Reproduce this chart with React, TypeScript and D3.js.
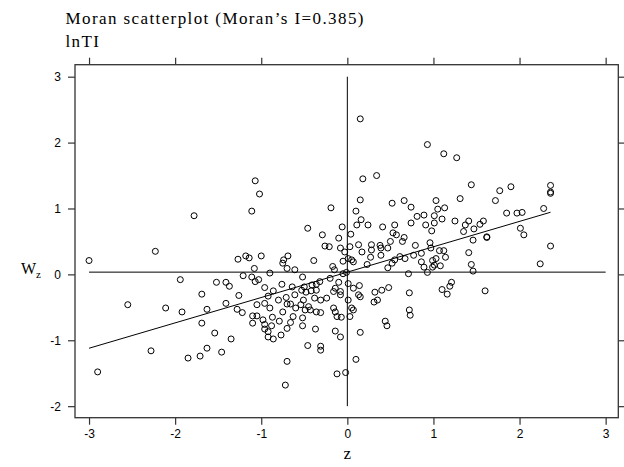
import React, { useEffect, useRef } from 'react';
import * as d3 from 'd3';

// standardised lnTI (z) and its spatial lag (Wz)
const zScore = [
  -3.00, -2.23, -1.78, -1.94, -1.69, -2.55, -2.11, -1.92, -1.63, -1.69, -1.54, -2.28, -1.85, -1.71, -1.63, -2.90,
  -1.52, -1.41, -1.37, -1.26, -1.21, -1.27, -1.18, -1.14, -1.08, -1.11, -1.07, -1.03, -1.11, -1.07, -1.02, -1.00, -1.41, -1.28, -1.22, -1.35, -1.46, -1.05, -1.10, -1.05, -1.10,
  -0.96, -0.96, -0.92, -0.86, -0.80, -0.71, -0.70, -0.66, -0.60, -0.61,
  -0.53, -0.48, -0.42, -0.36, -0.51, -0.54, -0.45, -0.38, -0.31, -0.24,
  -0.49, -0.43, -0.36, -0.31, -0.75, -0.90, -0.98, -0.87, -0.88, -0.96,
  -0.96, -0.92, -0.92, -0.86, -0.79, -0.77, -0.70, -0.66, -0.63, -0.52,
  -0.52, -0.37, -0.14, -0.08, -0.46, -0.31, -0.31, -0.70, -0.72, -0.12,
  -0.02, -0.16, -0.14, -0.12, -0.07, -0.16, -0.08, -0.14, -0.08, -0.19,
  -0.46, -0.06, -0.29, -0.10, -0.26, -0.21, -0.08, -0.03, -0.05, -0.69,
  -0.74, -0.75, -0.70, -0.61, -0.39, -0.90, -0.76, -0.64, -0.52, -0.50,
  -0.41, -0.36, -0.32, -0.20, -0.17, -0.15, -0.10, -0.05,
  0.93, 1.12, 1.27, 0.34, 0.18, 1.44, 1.31, 1.03, 0.66, 0.52,
  0.74, 1.05, 1.13, 0.89, 0.81, 1.01, 1.10, 1.25, 1.41, 1.58,
  1.54, 1.37, 0.74, 0.91, 1.01, 0.55, 0.41, 0.24, 0.15, 0.15,
  0.10, 0.16, 0.11, 0.98, 1.47, 1.35, 1.46, 1.41, 1.44, 1.46,
  0.04, 0.03, 0.13, 0.28, 0.28, 0.38, 0.39, 0.47, 0.50, 0.53,
  0.57, 0.66, 0.64, 0.79, 0.96, 0.97, 1.07, 1.12, 1.14, 1.03,
  0.99, 1.01, 1.08, 0.86, 0.77, 0.86, 0.89, 0.93, 0.67, 0.61,
  0.55, 0.52, 0.47, 0.71, 0.39, 0.27, 0.17, 0.23, 0.05, 0.07,
  0.01, -0.01, 0.01, 0.14, 0.48, 1.21, 0.99, 1.19, 1.10, 1.16,
  1.60, 1.62, 1.62, 0.07, 0.13, 0.15, 0.01, 0.05, 0.07, 0.03,
  0.32, 0.40, 0.35, 0.31, 0.72, 0.72, 0.73, 0.44, 0.46, 0.15, 0.10,
  1.77, 1.90, 1.72, 2.36, 2.36, 2.36, 2.28, 1.85, 1.97, 2.03, 2.01, 2.05, 2.36, 2.24,
];

const lagScore = [
  0.21, 0.35, 0.89, -0.08, -0.30, -0.46, -0.51, -0.57, -0.53, -0.74, -0.89, -1.16, -1.27, -1.24, -1.12, -1.48,
  -0.12, -0.12, -0.18, -0.32, -0.02, 0.23, 0.28, 0.25, 0.09, -0.04, -0.11, -0.08, 0.96, 1.42, 1.22, 0.28, -0.44, -0.53, -0.58, -0.98, -1.18, -0.46, -0.63, -0.63, -0.74,
  -0.44, -0.20, -0.33, -0.25, -0.39, -0.35, -0.45, -0.45, -0.51, -0.31,
  -0.24, -0.27, -0.25, -0.24, -0.39, -0.46, -0.49, -0.36, -0.39, -0.36,
  -0.54, -0.54, -0.57, -0.58, -0.57, -0.51, -0.69, -0.65, -0.78, -0.76,
  -0.83, -0.87, -0.95, -0.98, -0.71, -0.92, -0.82, -0.73, -0.64, -0.66,
  -0.78, -0.83, -0.86, -0.95, -1.08, -1.09, -1.15, -1.32, -1.68, -1.51,
  -1.49, -0.51, -0.57, -0.64, -0.65, -0.26, -0.26, -0.21, -0.31, 1.01,
  0.70, 0.72, 0.60, 0.55, 0.43, 0.42, 0.40, 0.34, 0.20, 0.28,
  0.22, 0.17, 0.09, 0.07, 0.21, 0.02, -0.15, -0.19, -0.04, -0.19,
  -0.16, -0.15, -0.11, -0.06, 0.12, 0.07, -0.12, 0.01,
  1.97, 1.83, 1.77, 1.50, 1.45, 1.36, 1.15, 1.12, 1.12, 1.08,
  1.02, 0.99, 1.01, 0.90, 0.88, 0.89, 0.84, 0.81, 0.81, 0.81,
  0.76, 0.75, 0.78, 0.75, 0.78, 0.75, 0.72, 0.75, 2.36, 1.13,
  0.96, 0.83, 0.75, 0.66, 0.69, 0.65, 0.52, 0.33, 0.15, 0.05,
  0.61, 0.42, 0.45, 0.45, 0.37, 0.44, 0.40, 0.40, 0.50, 0.63,
  0.60, 0.56, 0.50, 0.44, 0.48, 0.40, 0.36, 0.36, 0.26, 0.24,
  0.21, 0.14, 0.13, 0.32, 0.29, 0.19, 0.11, 0.03, 0.24, 0.27,
  0.22, 0.17, 0.10, 0.01, 0.29, 0.26, 0.34, 0.15, 0.22, 0.19,
  0.24, 0.03, -0.14, -0.17, -0.20, -0.12, 0.11, -0.18, -0.23, -0.30,
  -0.25, 0.57, 0.56, -0.21, -0.31, -0.34, -0.39, -0.51, -0.54, -0.64,
  -0.27, -0.24, -0.39, -0.42, -0.28, -0.54, -0.62, -0.71, -0.78, -0.88, -1.29,
  1.27, 1.33, 1.12, 1.35, 1.25, 1.23, 1.00, 0.93, 0.93, 0.94, 0.70, 0.60, 0.43, 0.16,
];

const xTicks = [-3, -2, -1, 0, 1, 2, 3];
const yTicks = [-2, -1, 0, 1, 2, 3];
const moranI = 0.385;
const fitIntercept = 0.034;
const lagMean = 0.034;
const titleLines = ['Moran scatterplot (Moran\u2019s I=0.385)', 'lnTI'];

const width = 624;
const height = 467;
const box = { left: 75, right: 618.3, top: 64.7, bottom: 417.7 };

export default function App() {
  const ref = useRef<SVGSVGElement>(null);

  useEffect(() => {
    const svg = d3.select(ref.current);
    svg.selectAll('*').remove();

    const x = d3.scaleLinear().domain([-3.163, 3.147]).range([box.left, box.right]);
    const y = d3.scaleLinear().domain([-2.175, 3.182]).range([box.bottom, box.top]);

    const n = Math.min(zScore.length, lagScore.length);
    const points = d3.range(n).map((i) => ({ z: zScore[i], wz: lagScore[i] }));

    // axes: ticks on all four sides, labels only left and bottom
    const tickStyle = (g: any) => {
      g.select('.domain').remove();
      g.attr('color', '#333')
        .attr('font-family', '"Liberation Sans", Arial, sans-serif')
        .attr('font-size', 12);
      g.selectAll('.tick line').attr('stroke-width', 1.2);
      g.selectAll('.tick text').attr('fill', '#000');
    };

    svg.append('g')
      .attr('transform', `translate(0,${box.bottom})`)
      .call(d3.axisBottom(x).tickValues(xTicks).tickSize(7).tickPadding(5).tickFormat((d: any) => String(d)))
      .call(tickStyle);
    svg.append('g')
      .attr('transform', `translate(0,${box.top})`)
      .call(d3.axisTop(x).tickValues(xTicks).tickSize(7).tickFormat(() => ''))
      .call(tickStyle);
    svg.append('g')
      .attr('transform', `translate(${box.left},0)`)
      .call(d3.axisLeft(y).tickValues(yTicks).tickSize(7).tickPadding(7).tickFormat((d: any) => String(d)))
      .call(tickStyle);
    svg.append('g')
      .attr('transform', `translate(${box.right},0)`)
      .call(d3.axisRight(y).tickValues(yTicks).tickSize(7).tickFormat(() => ''))
      .call(tickStyle);

    svg.append('rect')
      .attr('x', box.left)
      .attr('y', box.top)
      .attr('width', box.right - box.left)
      .attr('height', box.bottom - box.top)
      .attr('fill', 'none')
      .attr('stroke', '#333')
      .attr('stroke-width', 1.3);

    const g = svg.append('g');

    // reference lines through the origin
    g.append('line')
      .attr('x1', x(xTicks[0])).attr('x2', x(xTicks[xTicks.length - 1]))
      .attr('y1', y(lagMean)).attr('y2', y(lagMean))
      .attr('stroke', '#000').attr('stroke-width', 1);
    g.append('line')
      .attr('x1', x(0)).attr('x2', x(0))
      .attr('y1', y(yTicks[0])).attr('y2', y(yTicks[yTicks.length - 1]))
      .attr('stroke', '#000').attr('stroke-width', 1);

    // fitted line, slope = Moran's I
    const zExtent = d3.extent(zScore) as [number, number];
    const fit = d3.line<number>().x((d) => x(d)).y((d) => y(fitIntercept + moranI * d));
    g.append('path')
      .attr('d', fit(zExtent))
      .attr('fill', 'none')
      .attr('stroke', '#000')
      .attr('stroke-width', 1);

    g.selectAll('circle')
      .data(points)
      .enter()
      .append('circle')
      .attr('cx', (d) => x(d.z))
      .attr('cy', (d) => y(d.wz))
      .attr('r', 3)
      .attr('fill', 'none')
      .attr('stroke', '#000')
      .attr('stroke-width', 1);

    // titles
    const serif = '"Liberation Serif", "Times New Roman", serif';
    svg.selectAll('text.title')
      .data(titleLines)
      .enter()
      .append('text')
      .attr('class', 'title')
      .attr('x', 65.5)
      .attr('y', (d, i) => 24 + i * 23)
      .attr('font-family', serif)
      .attr('font-size', 17)
      .attr('letter-spacing', 1.4)
      .text((d) => d);

    svg.append('text')
      .attr('x', x(0))
      .attr('y', 459)
      .attr('text-anchor', 'middle')
      .attr('font-family', serif)
      .attr('font-size', 17)
      .text('z');

    const wLabel = svg.append('text')
      .attr('x', 21)
      .attr('y', 274)
      .attr('font-family', serif)
      .attr('font-size', 16);
    wLabel.append('tspan').text('W');
    wLabel.append('tspan').attr('font-size', 11).attr('dy', 4).text('z');
  }, []);

  return (
    <svg
      ref={ref}
      width={width}
      height={height}
      style={{ position: 'absolute', left: 0, top: 0, background: '#fff' }}
    />
  );
}
